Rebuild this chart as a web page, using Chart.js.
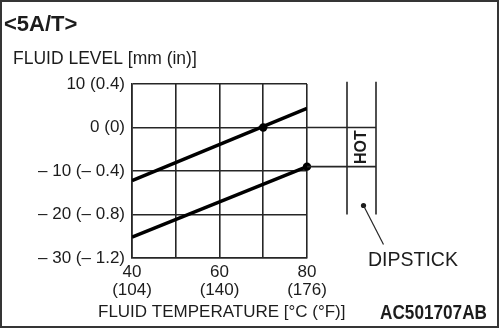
<!DOCTYPE html>
<html>
<head>
<meta charset="UTF-8">
<title>Fluid Level vs Fluid Temperature</title>
<script src="https://cdn.jsdelivr.net/npm/chart.js@4.4.1/dist/chart.umd.min.js"></script>
<style>
    body { margin: 0; background: #fff; }
    canvas { display: block; }
</style>
</head>
<body>
<canvas id="levelChart" width="500" height="329"></canvas>
<script>
    // Axis ticks and their labels
    var tempTicks = [40, 60, 80];
    var tempLabelsC = ['40', '60', '80'];
    var tempLabelsF = ['(104)', '(140)', '(176)'];
    var levelTicks = [10, 0, -10, -20, -30];
    var levelLabels = ['10 (0.4)', '0 (0)', '\u2013 10 (\u2013 0.4)', '\u2013 20 (\u2013 0.8)', '\u2013 30 (\u2013 1.2)'];

    // Fluid level (mm) at the ends of the temperature range (deg C)
    var lineTemps = [40, 80];
    var upperLevels = [-12.2, 4.4];
    var lowerLevels = [-25.2, -9];

    // Check points on the two lines
    var checkTemps = [70, 80];
    var checkLevels = [0, -9];

    // HOT band on the dipstick and the dipstick's length, in mm
    var hotBand = [0, -9];
    var dipstickSpan = [10.5, -20];

    var FONT = '"Liberation Sans", Arial, sans-serif';
    var INK = '#1c1c1c';
    var GRID = '#262626';

    function toPoints(xs, ys) {
        return xs.map(function (x, i) { return { x: x, y: ys[i] }; });
    }

    // Titles, dipstick and frame around the figure
    var decor = {
        id: 'decor',
        beforeDraw: function (chart) {
            var ctx = chart.ctx;
            ctx.save();
            ctx.fillStyle = '#fff';
            ctx.fillRect(0, 0, chart.width, chart.height);
            ctx.restore();
        },
        afterDraw: function (chart) {
            var ctx = chart.ctx, area = chart.chartArea, ys = chart.scales.y;
            ctx.save();

            // dipstick
            var dl = area.right + 40, dr = area.right + 69;
            ctx.strokeStyle = GRID;
            ctx.lineWidth = 1.6;
            ctx.beginPath();
            [dl, dr].forEach(function (px) {
                ctx.moveTo(px, ys.getPixelForValue(dipstickSpan[0]));
                ctx.lineTo(px, ys.getPixelForValue(dipstickSpan[1]));
            });
            hotBand.forEach(function (v) {
                var py = ys.getPixelForValue(v);
                ctx.moveTo(area.right, py);
                ctx.lineTo(dr, py);
            });
            ctx.stroke();

            ctx.fillStyle = INK;
            ctx.save();
            ctx.translate((dl + dr) / 2 + 0.5, (ys.getPixelForValue(hotBand[0]) + ys.getPixelForValue(hotBand[1])) / 2);
            ctx.rotate(-Math.PI / 2);
            ctx.font = 'bold 16px ' + FONT;
            ctx.textAlign = 'center';
            ctx.textBaseline = 'middle';
            ctx.fillText('HOT', 0, 0);
            ctx.restore();

            // dipstick callout
            var bx = (dl + dr) / 2 + 2, by = ys.getPixelForValue(dipstickSpan[1]) - 9;
            ctx.beginPath();
            ctx.arc(bx, by, 2.6, 0, Math.PI * 2);
            ctx.fill();
            ctx.lineWidth = 1.2;
            ctx.beginPath();
            ctx.moveTo(bx, by);
            ctx.lineTo(bx + 20, by + 39);
            ctx.stroke();

            ctx.textBaseline = 'middle';
            ctx.textAlign = 'left';
            ctx.font = '19.5px ' + FONT;
            ctx.fillText('DIPSTICK', 368, 261, 90);

            // titles
            ctx.font = 'bold 22px ' + FONT;
            ctx.fillText('<5A/T>', 4, 25, 75);
            ctx.font = '17.5px ' + FONT;
            ctx.fillText('FLUID LEVEL [mm (in)]', 13, 59, 185);
            ctx.font = '17px ' + FONT;
            ctx.fillText('FLUID TEMPERATURE [\u00b0C (\u00b0F)]', 98, 312, 250);
            ctx.font = 'bold 20px ' + FONT;
            ctx.fillText('AC501707AB', 380, 313, 107);

            // frame
            ctx.strokeStyle = '#353535';
            ctx.lineWidth = 2;
            ctx.strokeRect(1, 1, 497, 326);
            ctx.restore();
        }
    };

    var ctx = document.getElementById('levelChart').getContext('2d');
    var levelChart = new Chart(ctx, {
        type: 'scatter',
        data: {
            datasets: [{
                data: toPoints(lineTemps, upperLevels),
                showLine: true,
                borderColor: '#000',
                borderWidth: 3.5,
                pointRadius: 0
            }, {
                data: toPoints(lineTemps, lowerLevels),
                showLine: true,
                borderColor: '#000',
                borderWidth: 3.5,
                pointRadius: 0
            }, {
                data: toPoints(checkTemps, checkLevels),
                pointRadius: 4.2,
                pointBackgroundColor: '#000',
                pointBorderWidth: 0,
                clip: false
            }]
        },
        plugins: [decor],
        options: {
            responsive: false,
            animation: false,
            events: [],
            layout: { padding: { top: 84, right: 193, bottom: 0, left: 0 } },
            plugins: { legend: { display: false }, tooltip: { enabled: false } },
            scales: {
                x: {
                    type: 'linear',
                    min: 40,
                    max: 80,
                    afterFit: function (s) { s.height = 71; },
                    grid: { color: GRID, lineWidth: 1.6, drawTicks: false },
                    border: { color: GRID, width: 1.6 },
                    ticks: {
                        stepSize: 10,
                        autoSkip: false,
                        maxRotation: 0,
                        padding: 5,
                        color: INK,
                        font: { family: FONT, size: 17, lineHeight: 1.08 },
                        callback: function (v) {
                            var i = tempTicks.indexOf(v);
                            return i < 0 ? '' : [tempLabelsC[i], tempLabelsF[i]];
                        }
                    }
                },
                y: {
                    min: -30,
                    max: 10,
                    afterFit: function (s) { s.width = 132; },
                    grid: { color: GRID, lineWidth: 1.6, drawTicks: false },
                    border: { color: GRID, width: 1.6 },
                    ticks: {
                        stepSize: 10,
                        padding: 7,
                        color: INK,
                        font: { family: FONT, size: 17 },
                        callback: function (v) {
                            var i = levelTicks.indexOf(v);
                            return i < 0 ? '' : levelLabels[i];
                        }
                    }
                }
            }
        }
    });
</script>
</body>
</html>
